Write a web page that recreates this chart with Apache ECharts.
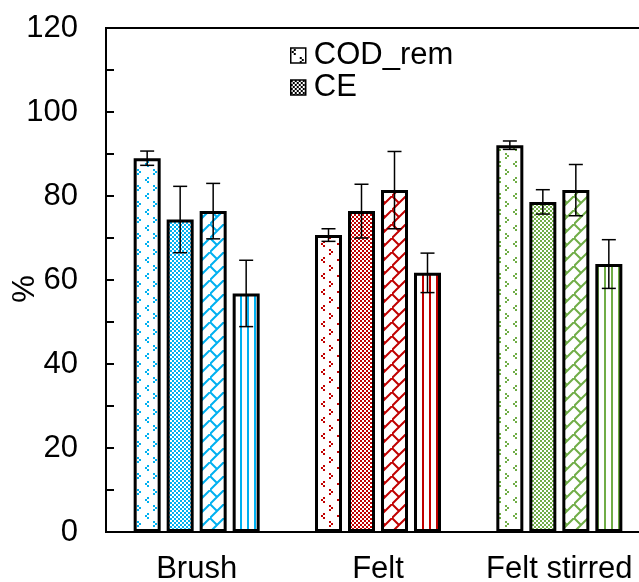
<!DOCTYPE html>
<html>
<head>
<meta charset="utf-8">
<script src="https://cdn.jsdelivr.net/npm/echarts@6/dist/echarts.min.js"></script>
<style>
  html, body { margin: 0; padding: 0; background: #fff; }
  #chart { width: 639px; height: 582px; }
</style>
</head>
<body>
<div id="chart"></div>
<script>
// Electrode types on the category axis
const categories = ['Brush', 'Felt', 'Felt stirred'];

// Mean values (%) and standard deviations per series
const codRem    = [89.0, 70.7, 92.1];
const codRemErr = [1.7, 1.5, 1.0];
const ce        = [74.4, 76.4, 78.6];
const ceErr     = [7.9, 6.4, 2.9];
const series3    = [76.4, 81.4, 81.4];
const series3Err = [6.6, 9.2, 6.1];
const series4    = [56.8, 61.7, 63.8];
const series4Err = [7.9, 4.7, 5.8];

// Y axis ticks
const yTicks = [0, 20, 40, 60, 80, 100, 120];

// Colour of each electrode group
const groupColors = ['#00B0F0', '#C00000', '#70AD47'];

const FONT = '"Liberation Sans", Arial, sans-serif';
const FS = 31;
const BAR_W = 27;
const BAR_GAP = 6;

// ---- hatch fills built on small canvases ----
function tile(w, h, draw) {
  const c = document.createElement('canvas');
  c.width = w; c.height = h;
  const ctx = c.getContext('2d');
  ctx.fillStyle = '#fff';
  ctx.fillRect(0, 0, w, h);
  draw(ctx);
  return { image: c, repeat: 'repeat' };
}
function dotted(col) {
  return tile(16, 16, ctx => {
    ctx.fillStyle = col;
    // "<" cluster
    ctx.fillRect(3, 1, 2, 2); ctx.fillRect(1, 3, 2, 2); ctx.fillRect(3, 5, 2, 2);
    // ">" cluster
    ctx.fillRect(9, 9, 2, 2); ctx.fillRect(11, 11, 2, 2); ctx.fillRect(9, 13, 2, 2);
  });
}
function checker(col) {
  return tile(4, 4, ctx => {
    ctx.fillStyle = col;
    ctx.fillRect(0, 0, 2, 2); ctx.fillRect(2, 2, 2, 2);
  });
}
function zigzag(col) {
  return tile(14, 14, ctx => {
    ctx.strokeStyle = col;
    ctx.lineWidth = 2;
    ctx.beginPath();
    ctx.moveTo(-1, 15); ctx.lineTo(15, -1);
    ctx.moveTo(0, 0); ctx.lineTo(7, 7);
    ctx.stroke();
  });
}
function vlines(col) {
  return tile(7, 4, ctx => {
    ctx.fillStyle = col;
    ctx.fillRect(2, 0, 2, 4);
  });
}

const fills = [dotted, checker, zigzag, vlines];
const allSeries = [
  { name: 'COD_rem', values: codRem, errs: codRemErr },
  { name: 'CE', values: ce, errs: ceErr },
  { name: 'Series 3', values: series3, errs: series3Err },
  { name: 'Series 4', values: series4, errs: series4Err }
];

const barSeries = allSeries.map((s, si) => ({
  name: s.name,
  type: 'bar',
  barWidth: BAR_W,
  barGap: (BAR_GAP / BAR_W * 100) + '%',
  itemStyle: { borderColor: '#000', borderWidth: 3 },
  emphasis: { disabled: true },
  data: s.values.map((v, ci) => ({
    value: v,
    itemStyle: { color: fills[si](groupColors[ci]) }
  }))
}));

// Error bars: [category index, series index, mean, sd]
const errData = [];
allSeries.forEach((s, si) => {
  s.values.forEach((v, ci) => errData.push([ci, si, v, s.errs[ci]]));
});

const errorSeries = {
  type: 'custom',
  name: 'error',
  z: 10,
  silent: true,
  encode: { x: 0, y: 2 },
  data: errData,
  renderItem: function (params, api) {
    const ci = api.value(0), si = api.value(1), v = api.value(2), e = api.value(3);
    const offset = (si - 1.5) * (BAR_W + BAR_GAP);
    const top = api.coord([ci, v + e]);
    const bot = api.coord([ci, v - e]);
    const x = top[0] + offset;
    const cap = 7;
    const style = { stroke: '#000', lineWidth: 1.5 };
    return {
      type: 'group',
      children: [
        { type: 'line', shape: { x1: x, y1: top[1], x2: x, y2: bot[1] }, style },
        { type: 'line', shape: { x1: x - cap, y1: top[1], x2: x + cap, y2: top[1] }, style },
        { type: 'line', shape: { x1: x - cap, y1: bot[1], x2: x + cap, y2: bot[1] }, style }
      ]
    };
  }
};

const chart = echarts.init(document.getElementById('chart'), null, { renderer: 'canvas' });
chart.setOption({
  animation: false,
  backgroundColor: '#fff',
  textStyle: { fontFamily: FONT, color: '#000' },
  grid: {
    left: 106, right: -11, top: 28, bottom: 50,
    containLabel: false,
    outerBoundsMode: 'none',
    show: true, borderColor: '#000', borderWidth: 2,
    backgroundColor: 'transparent'
  },
  legend: {
    orient: 'vertical',
    left: 285, top: 35,
    itemWidth: 15, itemHeight: 15, itemGap: 1,
    icon: 'rect',
    textStyle: { fontFamily: FONT, fontSize: FS, color: '#000', padding: [0, 0, 0, 3] },
    data: [
      { name: 'COD_rem', itemStyle: { color: dotted('#000'), borderColor: '#000', borderWidth: 1.5 } },
      { name: 'CE', itemStyle: { color: checker('#000'), borderColor: '#000', borderWidth: 1.5 } }
    ],
    selectedMode: false
  },
  xAxis: {
    type: 'category',
    data: categories,
    axisLine: { lineStyle: { color: '#000', width: 2 } },
    axisTick: { show: false },
    axisLabel: { fontFamily: FONT, fontSize: FS, color: '#000', margin: 22, interval: 0, hideOverlap: false }
  },
  yAxis: {
    type: 'value',
    min: yTicks[0], max: yTicks[yTicks.length - 1], interval: yTicks[1] - yTicks[0],
    name: '%',
    nameLocation: 'middle',
    nameGap: 65,
    nameMoveOverlap: false,
    nameTextStyle: { fontFamily: FONT, fontSize: FS, color: '#000', padding: [0, 18, 0, 0] },
    axisLine: { show: true, lineStyle: { color: '#000', width: 2 } },
    axisTick: { show: true, inside: true, length: 8, lineStyle: { color: '#000', width: 2 } },
    minorTick: { show: true, splitNumber: 2, length: 8, lineStyle: { color: '#000', width: 2 } },
    splitLine: { show: false },
    axisLabel: { fontFamily: FONT, fontSize: FS, color: '#000', margin: 28 }
  },
  series: barSeries.concat([errorSeries])
});
</script>
</body>
</html>
